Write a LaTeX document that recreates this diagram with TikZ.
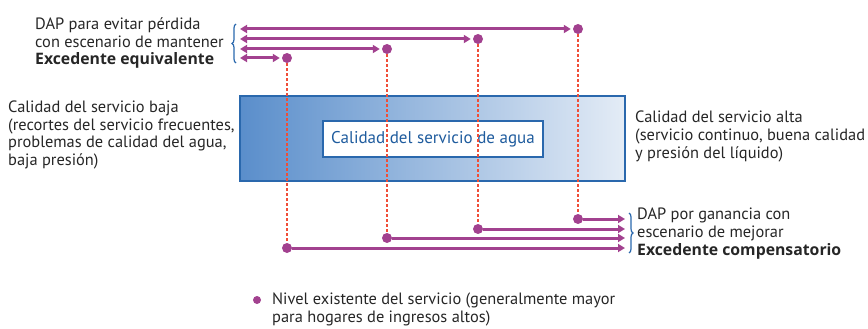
\documentclass[tikz,border=0pt]{standalone}
\usepackage{fontspec}
\setmainfont{PT Sans}
\newfontfamily\boldfam{Open Sans}
\usetikzlibrary{arrows.meta,decorations.pathreplacing}
\definecolor{mag}{HTML}{A2418F}
\definecolor{redd}{HTML}{F04E37}
\definecolor{bbord}{HTML}{2A68AD}
\definecolor{bdark}{HTML}{5A8ECB}
\definecolor{blight}{HTML}{E4ECF6}
\definecolor{btext}{HTML}{1F5C9E}
\newcommand{\bld}[1]{{\boldfam\bfseries\fontsize{15.8}{17.5}\selectfont #1}}
\tikzset{
  dotnode/.style={circle,fill=mag,inner sep=0pt,minimum size=10pt},
  arr/.style={mag,line width=3pt,-{Triangle[length=7pt,width=8pt]}},
  darr/.style={mag,line width=3pt,{Triangle[length=7pt,width=8pt]}-{Triangle[length=7pt,width=8pt]}},
  vdash/.style={redd,line width=1.6pt,dash pattern=on 3pt off 2pt},
  txt/.style={font=\fontsize{16.4}{17.6}\selectfont,align=left,inner sep=0pt,text=black!85},
  bracestyle/.style={bbord,line width=1.2pt,decorate,decoration={brace,amplitude=4pt}}
}
\begin{document}
\begin{tikzpicture}[x=1pt,y=-1pt]
\useasboundingbox (0,0) rectangle (868,329);
% blue box
\node[draw=bbord,line width=2pt,left color=bdark,right color=blight,minimum width=385pt,minimum height=85pt,inner sep=0pt] (box) at (432.5,138.5) {};
\node[draw=bbord,line width=2pt,fill=white,minimum width=220pt,minimum height=36pt,inner sep=0pt,text=btext,font=\fontsize{17}{20}\selectfont] (inner) at (433,139) {Calidad del servicio de agua};
% dots
\node[dotnode] (t1) at (578,29) {};
\node[dotnode] (t2) at (478,39) {};
\node[dotnode] (t3) at (387,49) {};
\node[dotnode] (t4) at (287,58) {};
\node[dotnode] (b1) at (578,219) {};
\node[dotnode] (b2) at (478,229) {};
\node[dotnode] (b3) at (387,238) {};
\node[dotnode] (b4) at (287,248) {};
% dashed verticals
\foreach \i in {1,2,3,4}{\draw[vdash] (t\i) -- (b\i);}
% coordinates
\coordinate (l1) at (240,29);
\coordinate (l2) at (240,39);
\coordinate (l3) at (240,49);
\coordinate (l4) at (240,58);
\coordinate (r1) at (625,219);
\coordinate (r2) at (625,229);
\coordinate (r3) at (625,238);
\coordinate (r4) at (625,248);
\foreach \i in {1,2,3,4}{
  \draw[darr,shorten >=2pt] (l\i) -- (t\i.west);
  \draw[arr] (b\i.east) -- (r\i);
}
% braces
\draw[bracestyle] (236,63) -- (236,24);
\draw[bracestyle] (629,213) -- (629,253);
% texts
\node[txt,anchor=base west] (tl) at (35,65) {DAP para evitar pérdida\\con escenario de mantener\\\bld{Excedente equivalente}};
\node[txt,anchor=base west] (ml) at (8,165.5) {Calidad del servicio baja\\(recortes del servicio frecuentes,\\problemas de calidad del agua,\\baja presión)};
\node[txt,anchor=base west] (mr) at (635,158) {Calidad del servicio alta\\(servicio continuo, buena calidad\\y presión del líquido)};
\node[txt,anchor=base west] (br) at (637,255) {DAP por ganancia con\\escenario de mejorar\\\bld{Excedente compensatorio}};
\node[dotnode,minimum size=8pt] (leg) at (257,300) {};
\node[txt,anchor=base west] (legt) at (272,322) {Nivel existente del servicio (generalmente mayor\\para hogares de ingresos altos)};
\end{tikzpicture}
\end{document}
